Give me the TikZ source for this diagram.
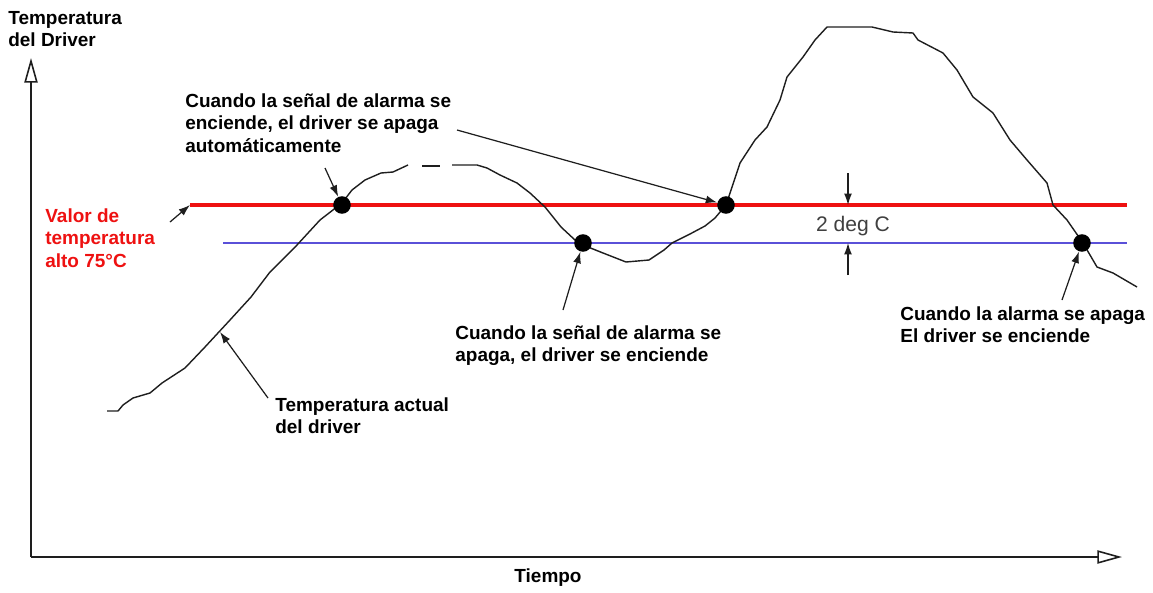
\documentclass[tikz,border=0pt]{standalone}
\usepackage{fontspec}
\setmainfont{Liberation Sans}
\usetikzlibrary{arrows.meta}
\definecolor{rojo}{HTML}{EE1111}
\definecolor{azul}{HTML}{5A50D8}
\definecolor{gris}{HTML}{1E1E1E}
\begin{document}
\begin{tikzpicture}[x=0.02cm, y=-0.02cm,
    texto/.style={inner sep=0pt, anchor=north west, align=left, font=\fontsize{10.8}{12.8}\selectfont\bfseries},
    eje/.style={line width=0.9pt, gris, -{Triangle[open, length=14pt, width=7.5pt]}},
    flecha/.style={line width=0.7pt, gris, -{Latex[length=6.5pt, width=4.5pt]}},
    alarma/.style={circle, fill=black, inner sep=0pt, minimum size=10pt},
    curva/.style={line width=0.8pt, gris, line join=round}]
    \useasboundingbox (0,0) rectangle (1153,592);
    % ejes
    \coordinate (o) at (31,557);
    \coordinate (ytop) at (31,58);
    \coordinate (xend) at (1122,557);
    \draw[eje] (o)--(ytop);
    \draw[eje] (o)--(xend);
    \node[texto] (ylab) at (8,11) {Temperatura\\del Driver};
    \node[font=\fontsize{10.8}{12.8}\selectfont\bfseries] (xlab) at (548,578) {Tiempo};
    % niveles
    \coordinate (r0) at (190,205);
    \coordinate (r1) at (1127,205);
    \coordinate (b0) at (223,243);
    \coordinate (b1) at (1127,243);
    \draw[rojo, line width=1.8pt] (r0)--(r1);
    \draw[azul, line width=1.1pt] (b0)--(b1);
    % temperatura real
    \draw[curva] plot coordinates{(107,411)(118,411)(123,405)(133,398)(150,393)(162,383)(185,368)(205,347)(230,320)(251,297)(270,272)(297,245)(320,220)(342,203)(352,190)(365,180)(381,173)(393,172)(408,165)};
    \draw[curva] (422,166)--(440,166);
    \draw[curva] plot coordinates{(452,165)(477,165)(487,168)(500,175)(517,183)(530,193)(545,207)(561,227)(575,240)(583,245)(603,253)(626,262)(649,260)(664,250)(672,243)(690,234)(705,226)(715,218)(726,205)(732,187)(740,163)(755,140)(767,127)(780,100)(787,77)(803,57)(815,40)(827,27)(872,27)(893,32)(913,33)(918,40)(943,53)(957,70)(973,97)(993,113)(1010,140)(1027,160)(1047,183)(1053,205)(1067,220)(1083,243)(1097,267)(1113,273)(1137,287)};
    % puntos de alarma
    \node[alarma] (p1) at (342,205) {};
    \node[alarma] (p2) at (583,243) {};
    \node[alarma] (p3) at (726,205) {};
    \node[alarma] (p4) at (1082,243) {};
    % textos
    \node[texto, rojo] (valor) at (45,208) {Valor de\\temperatura\\alto 75°C};
    \node[texto] (t1) at (185,93) {Cuando la señal de alarma se\\enciende, el driver se apaga\\automáticamente};
    \node[texto] (t2) at (455,325) {Cuando la señal de alarma se\\apaga, el driver se enciende};
    \node[texto] (t3) at (900,306) {Cuando la alarma se apaga\\El driver se enciende};
    \node[texto] (t4) at (275,397) {Temperatura actual\\del driver};
    \node[gris!85, font=\fontsize{12}{14}\selectfont] (delta) at (853,226) {2 deg C};
    % flechas
    \coordinate (v0) at (170,222);
    \coordinate (a1) at (325,168);
    \coordinate (a2) at (457,130);
    \coordinate (a3) at (563,310);
    \coordinate (a4) at (1062,300);
    \coordinate (a5) at (268,398);
    \coordinate (c1) at (220,332);
    \draw[flecha] (v0)--(r0);
    \draw[flecha] (a1)--(p1);
    \draw[flecha] (a2)--(p3);
    \draw[flecha] (a3)--(p2);
    \draw[flecha] (a4)--(p4);
    \draw[flecha] (a5)--(c1);
    \coordinate (g0) at (848,173);
    \coordinate (g1) at (848,205);
    \coordinate (g2) at (848,275);
    \coordinate (g3) at (848,243);
    \draw[flecha] (g0)--(g1);
    \draw[flecha] (g2)--(g3);
\end{tikzpicture}
\end{document}
